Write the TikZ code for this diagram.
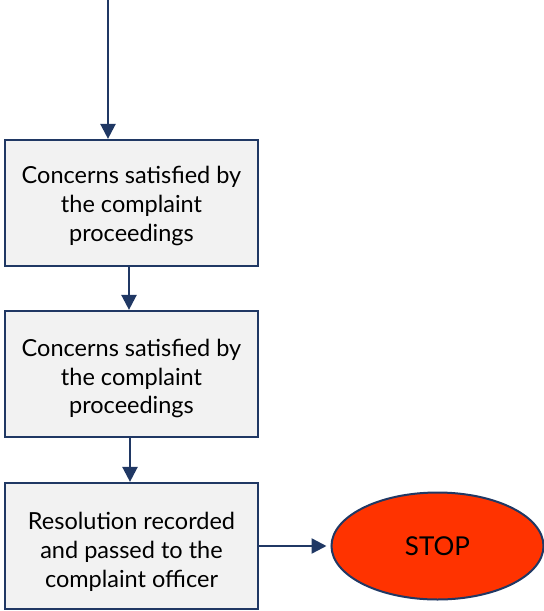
\documentclass[tikz,border=0pt]{standalone}
\usepackage{fontspec}
\setmainfont{Lato}
\usetikzlibrary{arrows.meta,shapes.geometric}
\definecolor{navy}{HTML}{203864}
\definecolor{boxfill}{HTML}{F2F2F2}
\definecolor{stopred}{HTML}{FF3300}
\tikzset{
  stepbox/.style={draw=navy, line width=2.2pt, fill=boxfill, minimum width=253pt,
    minimum height=126pt, inner sep=0pt},
  steptext/.style={align=center, font=\fontsize{23.5}{28.7}\selectfont, inner sep=0pt},
  stopnode/.style={ellipse, draw=navy, line width=2pt, fill=stopred,
    minimum width=212pt, minimum height=107pt, font=\fontsize{26}{30}\selectfont, inner sep=0pt},
  flow/.style={draw=navy, line width=2.4pt, -{Triangle[width=15pt,length=15pt]}}
}
\begin{document}
\begin{tikzpicture}[x=1pt,y=-1pt]
  \useasboundingbox (0,0) rectangle (544,611);
  % process boxes and their captions
  \node[stepbox] (b1) at (131.5,203) {};
  \node[steptext] (t1) at ([yshift=-3pt]b1.center) {Concerns satisfied by\\the complaint\\proceedings};
  \node[stepbox] (b2) at (131.5,374) {};
  \node[steptext] (t2) at ([yshift=-4.5pt]b2.center) {Concerns satisfied by\\the complaint\\proceedings};
  \node[stepbox] (b3) at (131.5,546) {};
  \node[steptext] (t3) at ([yshift=-6pt]b3.center) {Resolution recorded\\and passed to the\\complaint officer};
  % terminal
  \node[stopnode] (stop) at (437.5,546) {STOP};
  % connectors
  \coordinate (entry) at (108,-2);
  \draw[flow] (entry) -- (entry |- b1.north);
  \draw[flow] ([xshift=-2.5pt]b1.south) -- ([xshift=-2.5pt]b2.north);
  \draw[flow] ([xshift=-1.5pt]b2.south) -- ([xshift=-1.5pt]b3.north);
  \draw[flow] (b3.east) -- ([xshift=-4pt]stop.west);
\end{tikzpicture}
\end{document}
